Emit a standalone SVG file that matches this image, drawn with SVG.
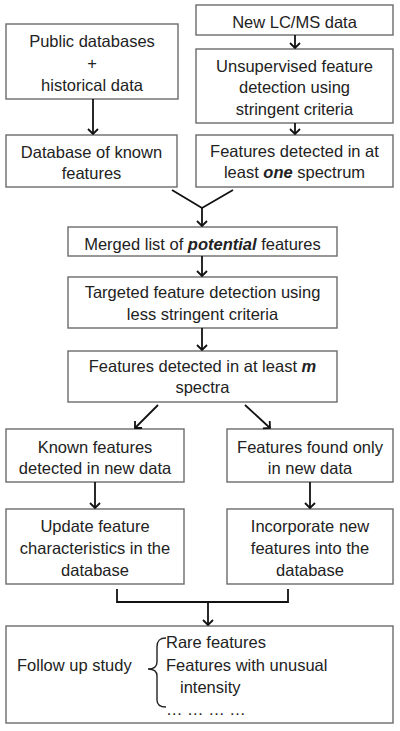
<svg xmlns="http://www.w3.org/2000/svg" width="400" height="731" viewBox="0 0 400 731">
<style>
.box{fill:#fff;stroke:#6b6b6b;stroke-width:1.4}
.t{font-family:"Liberation Sans",Arial,sans-serif;font-size:16.5px;fill:#222;text-anchor:middle}
.l{text-anchor:start}
.bi{font-weight:bold;font-style:italic}
.c{fill:none;stroke:#111;stroke-width:1.8}
</style>
<defs>
<marker id="ah" viewBox="-7 -7 8 14" markerWidth="8" markerHeight="14" refX="0" refY="0" orient="auto" markerUnits="userSpaceOnUse">
<path d="M-5,-5 L0,0 L-5,5" fill="none" stroke="#111" stroke-width="1.8"/>
</marker>
</defs>
<rect width="400" height="731" fill="#fff"/>
<g id="n_public"><rect class="box" x="6" y="24" width="172" height="75"/>
<text class="t" x="92" y="47">Public databases</text><text class="t" x="92" y="69">+</text><text class="t" x="92" y="91">historical data</text></g>
<g id="n_dbknown"><rect class="box" x="6" y="135" width="171" height="52"/>
<text class="t" x="91.5" y="158">Database of known</text><text class="t" x="91.5" y="179">features</text></g>
<g id="n_lcms"><rect class="box" x="196" y="5" width="197" height="30"/>
<text class="t" x="294.5" y="28">New LC/MS data</text></g>
<g id="n_unsup"><rect class="box" x="196" y="49" width="197" height="74"/>
<text class="t" x="294.5" y="72">Unsupervised feature</text><text class="t" x="294.5" y="93">detection using</text><text class="t" x="294.5" y="115">stringent criteria</text></g>
<g id="n_one"><rect class="box" x="196" y="135" width="197" height="52"/>
<text class="t" x="294.5" y="157">Features detected in at</text><text class="t" x="294.5" y="178">least <tspan class="bi">one</tspan> spectrum</text></g>
<g id="n_merged"><rect class="box" x="68" y="227" width="269" height="29"/>
<text class="t" x="202.5" y="250">Merged list of <tspan class="bi">potential</tspan> features</text></g>
<g id="n_targeted"><rect class="box" x="68" y="277" width="269" height="51"/>
<text class="t" x="202.5" y="298">Targeted feature detection using</text><text class="t" x="202.5" y="320">less stringent criteria</text></g>
<g id="n_m"><rect class="box" x="68" y="351" width="269" height="51"/>
<text class="t" x="202.5" y="372">Features detected in at least <tspan class="bi">m</tspan></text><text class="t" x="202.5" y="393">spectra</text></g>
<g id="n_known"><rect class="box" x="6" y="429" width="178" height="53"/>
<text class="t" x="95" y="453">Known features</text><text class="t" x="95" y="474">detected in new data</text></g>
<g id="n_found"><rect class="box" x="227" y="429" width="166" height="53"/>
<text class="t" x="310" y="453">Features found only</text><text class="t" x="310" y="474">in new data</text></g>
<g id="n_update"><rect class="box" x="6" y="509" width="178" height="75"/>
<text class="t" x="95" y="532">Update feature</text><text class="t" x="95" y="554">characteristics in the</text><text class="t" x="95" y="576">database</text></g>
<g id="n_incorp"><rect class="box" x="227" y="509" width="166" height="75"/>
<text class="t" x="310" y="532">Incorporate new</text><text class="t" x="310" y="554">features into the</text><text class="t" x="310" y="576">database</text></g>
<g id="n_follow"><rect class="box" x="6" y="626" width="387" height="97"/>
<text class="t l" x="17" y="671">Follow up study</text>
<path d="M166,638 C159,638 157,641 157,647 V662 C157,667 154,669 148,669 C154,669 157,671 157,676 V700 C157,705 160,707 166,707" fill="none" stroke="#222" stroke-width="1.4"/>
<text class="t l" x="166" y="648">Rare features</text>
<text class="t l" x="166" y="671">Features with unusual</text>
<text class="t l" x="180" y="693">intensity</text>
<text class="t l" x="166" y="715">… … … …</text></g>
<g id="connectors">
<line class="c" x1="93" y1="99" x2="93" y2="134" marker-end="url(#ah)"/>
<line class="c" x1="295" y1="35" x2="295" y2="48" marker-end="url(#ah)"/>
<line class="c" x1="295" y1="123" x2="295" y2="134" marker-end="url(#ah)"/>
<polyline class="c" points="172,190 202,208 233,190"/>
<line class="c" x1="202" y1="208" x2="202" y2="226" marker-end="url(#ah)"/>
<line class="c" x1="202" y1="256" x2="202" y2="276" marker-end="url(#ah)"/>
<line class="c" x1="202" y1="328" x2="202" y2="350" marker-end="url(#ah)"/>
<line class="c" x1="158" y1="405" x2="135" y2="428" marker-end="url(#ah)"/>
<line class="c" x1="245" y1="405" x2="270" y2="428" marker-end="url(#ah)"/>
<line class="c" x1="95" y1="482" x2="95" y2="508" marker-end="url(#ah)"/>
<line class="c" x1="310" y1="482" x2="310" y2="508" marker-end="url(#ah)"/>
<polyline class="c" points="117,589 117,602 288,602 288,589"/>
<line class="c" x1="208" y1="602" x2="208" y2="625" marker-end="url(#ah)"/>
</g>
</svg>
